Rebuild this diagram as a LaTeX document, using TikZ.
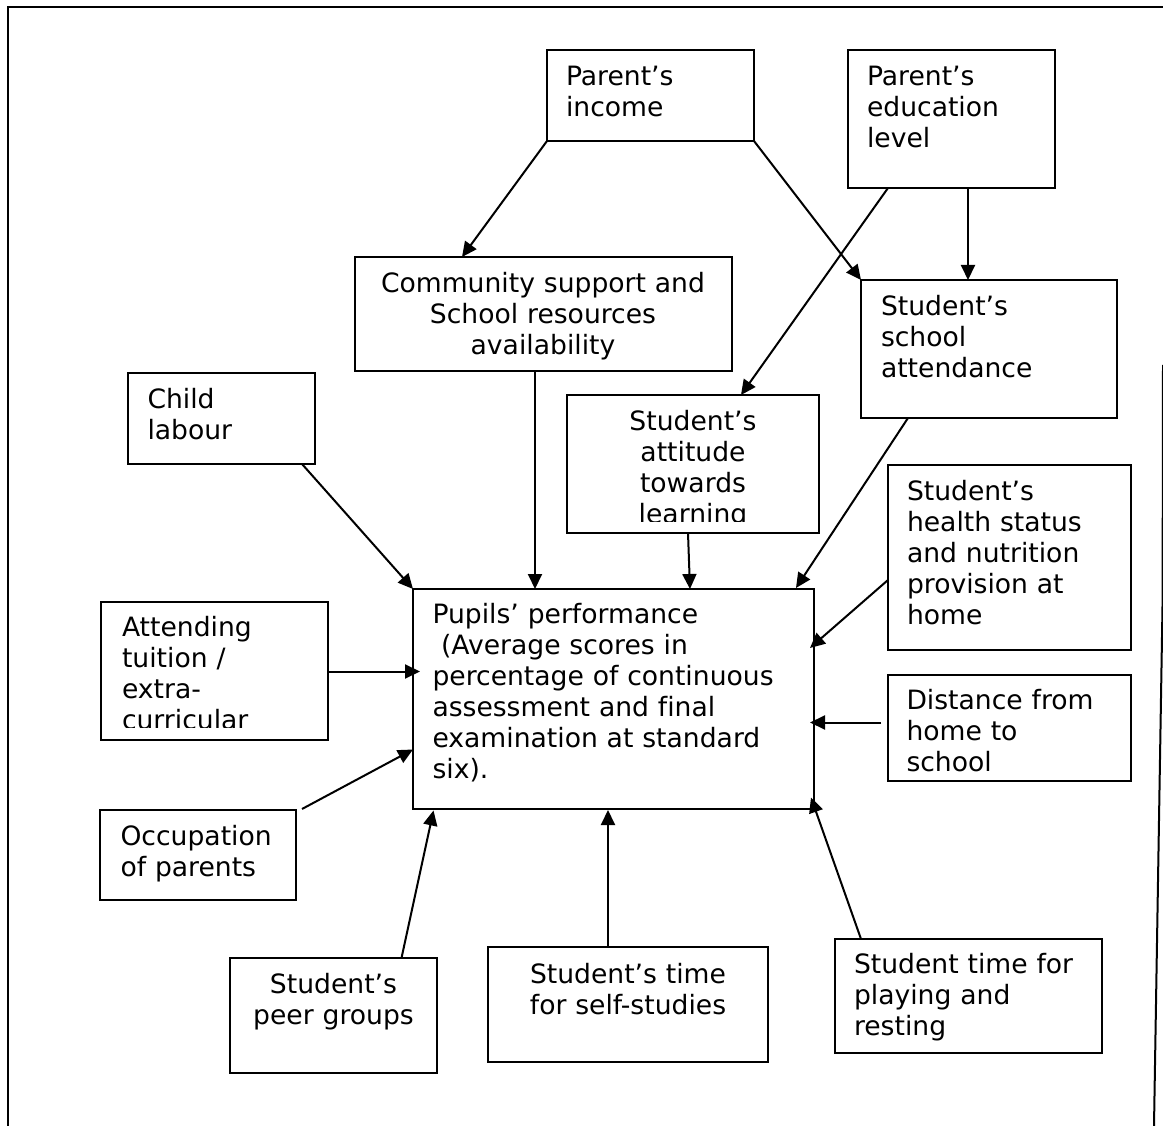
\documentclass[tikz,border=0pt]{standalone}
\usepackage{fontspec}
\setmainfont[Ligatures=NoCommon]{DejaVu Sans}
\usetikzlibrary{arrows.meta,calc}
\begin{document}
\begin{tikzpicture}[x=1pt,y=-1pt,
  box/.style={draw, line width=2.3pt, inner sep=0pt, outer sep=0pt, anchor=north west},
  txtbase/.style={inner sep=0pt, outer sep=0pt, font=\fontsize{26.6pt}{31pt}\selectfont},
  txtl/.style={txtbase, align=left, anchor=base west, text width=420pt},
  txtc/.style={txtbase, align=center, anchor=base, text width=400pt},
  conn/.style={line width=2pt, -{Triangle[length=15pt,width=14pt]}}
]
\useasboundingbox (0,0) rectangle (1163,1126);

% outer frame
\draw[line width=2.6pt] (1163,7) -- (8,7) -- (8,1126);
\draw[line width=2pt] (1163,365) -- (1162.6,600) -- (1154,1126);

% boxes and texts
\node[box, minimum width=207pt, minimum height=91pt] (inc) at (547,50) {};
\node[txtl] (inc-t) at (566,86) {Parent’s\\income};

\node[box, minimum width=207pt, minimum height=138pt] (edu) at (848,50) {};
\node[txtl] (edu-t) at (867,86) {Parent’s\\education\\level};

\node[box, minimum width=377pt, minimum height=114pt] (com) at (355,257) {};
\node[txtc] (com-t) at (543,293) {Community support and\\School resources\\availability};

\node[box, minimum width=256pt, minimum height=138pt] (att) at (861,280) {};
\node[txtl] (att-t) at (881,316) {Student’s\\school\\attendance};

\node[box, minimum width=187pt, minimum height=91pt] (child) at (128,373) {};
\node[txtl] (child-t) at (147.5,408) {Child\\labour};

\node[box, minimum width=252pt, minimum height=138pt] (attd) at (567,395) {};
\begin{scope}
  \clip (attd.north west) rectangle ($(attd.north east)+(0,126.5)$);
  \node[txtc] (attd-t) at (693,430.7) {Student’s\\attitude\\towards\\learning};
\end{scope}

\node[box, minimum width=243pt, minimum height=185pt] (health) at (888,465) {};
\node[txtl] (health-t) at (907,500) {Student’s\\health status\\and nutrition\\provision at\\home};

\node[box, minimum width=401pt, minimum height=220pt] (perf) at (413,589) {};
\node[txtl] (perf-t) at (432.5,623.5) {Pupils’ performance\\\hspace*{8.5pt}(Average scores in\\percentage of continuous\\assessment and final\\examination at standard\\six).};

\node[box, minimum width=227pt, minimum height=138pt] (tuit) at (101,602) {};
\begin{scope}
  \clip (tuit.north west) rectangle ($(tuit.north east)+(0,125)$);
  \node[txtl] (tuit-t) at (122,636) {Attending\\tuition /\\extra-\\curricular};
\end{scope}

\node[box, minimum width=243pt, minimum height=106pt] (dist) at (888,675) {};
\node[txtl] (dist-t) at (906.5,709.5) {Distance from\\home to\\school};

\node[box, minimum width=196pt, minimum height=90pt] (occ) at (100,810) {};
\node[txtl] (occ-t) at (120.5,845) {Occupation\\of parents};

\node[box, minimum width=207pt, minimum height=115pt] (peer) at (230,958) {};
\node[txtc] (peer-t) at (333.5,993) {Student’s\\peer groups};

\node[box, minimum width=280pt, minimum height=115pt] (self) at (488,947) {};
\node[txtc] (self-t) at (628,983) {Student’s time\\for self-studies};

\node[box, minimum width=267pt, minimum height=114pt] (play) at (835,939) {};
\node[txtl] (play-t) at (854,973) {Student time for\\playing and\\resting};

% connectors
\draw[conn] (inc.south west) -- ($(com.north west)+(107,0)$);
\draw[conn] (inc.south east) -- (att.north west);
\draw[conn] ($(edu.south west)+(40,0)$) -- ($(attd.north west)+(174,0)$);
\draw[conn] ($(edu.south west)+(120,0)$) -- ($(att.north west)+(107,0)$);
\draw[conn] ($(com.south west)+(180,0)$) -- ($(perf.north west)+(122,0)$);
\draw[conn] ($(child.south west)+(174,0)$) -- (perf.north west);
\draw[conn] ($(attd.south west)+(121,0)$) -- ($(perf.north west)+(277,0)$);
\draw[conn] ($(att.south west)+(47,0)$) -- ($(perf.north west)+(383,-1)$);
\draw[conn] ($(health.north west)+(0,115)$) -- ($(perf.north east)+(-4,59)$);
\draw[conn] ($(dist.north west)+(-7,47.5)$) -- ($(perf.north east)+(-4,133.5)$);
\draw[conn] ($(tuit.north east)+(0,69.5)$) -- ($(perf.north west)+(7,82.5)$);
\draw[conn] ($(occ.north east)+(6,-1)$) -- ($(perf.north west)+(0,160.5)$);
\draw[conn] ($(peer.north west)+(171.5,0)$) -- ($(perf.south west)+(20.5,1.5)$);
\draw[conn] ($(self.north west)+(120,0)$) -- ($(perf.south west)+(195,1)$);
\draw[conn] ($(play.north west)+(26,0)$) -- ($(perf.south east)+(-3,-11.5)$);
\end{tikzpicture}
\end{document}
